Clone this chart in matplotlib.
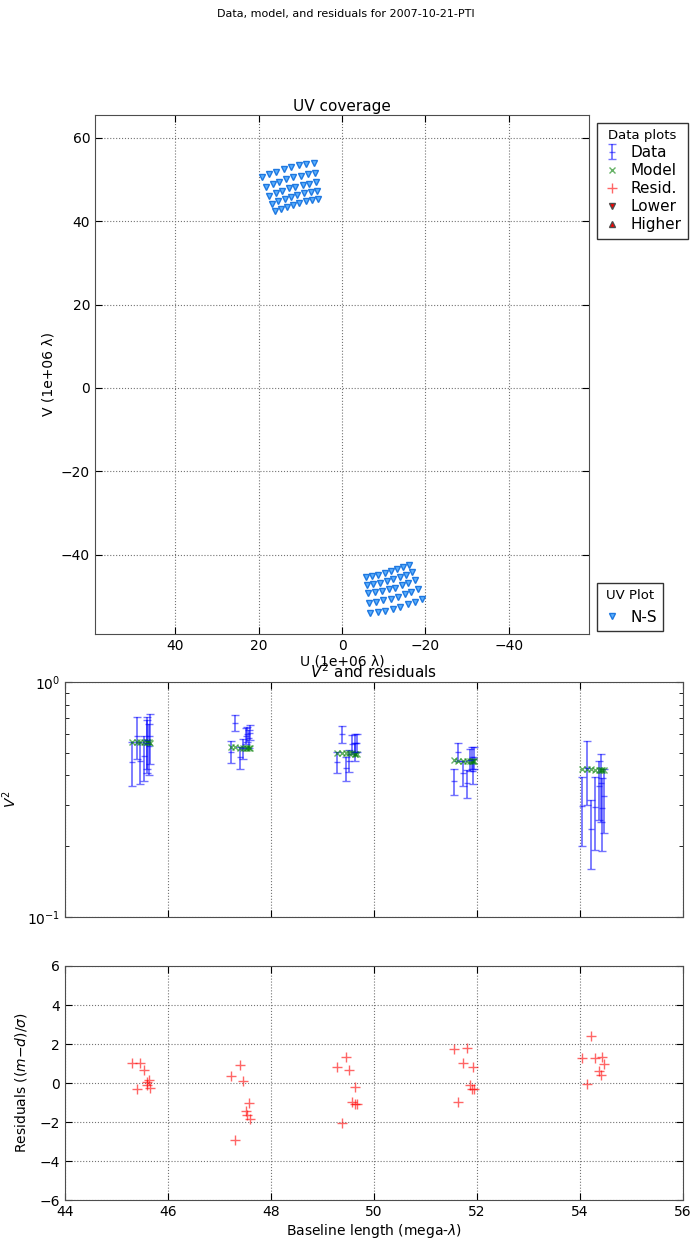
import matplotlib
matplotlib.use('Agg')
import matplotlib.pyplot as plt
from matplotlib.lines import Line2D
from matplotlib.ticker import NullFormatter

# baselines (mega-lambda), 5 channels x 8 times
baseline = [45.30, 45.39, 45.46, 45.53, 45.59, 45.60, 45.63, 45.66,
            47.22, 47.31, 47.40, 47.45, 47.51, 47.54, 47.57, 47.60,
            49.28, 49.37, 49.45, 49.52, 49.58, 49.63, 49.64, 49.67,
            51.55, 51.64, 51.72, 51.80, 51.86, 51.91, 51.92, 51.95,
            54.03, 54.13, 54.22, 54.30, 54.37, 54.40, 54.43, 54.47]
v2_data = [0.457, 0.589, 0.460, 0.483, 0.568, 0.550, 0.532, 0.589,
           0.505, 0.670, 0.477, 0.521, 0.590, 0.600, 0.575, 0.609,
           0.457, 0.600, 0.430, 0.462, 0.544, 0.505, 0.551, 0.551,
           0.379, 0.505, 0.410, 0.372, 0.466, 0.477, 0.419, 0.477,
           0.297, 0.430, 0.237, 0.293, 0.359, 0.373, 0.291, 0.328]
v2_err = [0.096, 0.120, 0.093, 0.104, 0.140, 0.140, 0.130, 0.140,
          0.055, 0.050, 0.053, 0.050, 0.045, 0.045, 0.050, 0.045,
          0.046, 0.050, 0.050, 0.050, 0.050, 0.045, 0.050, 0.050,
          0.048, 0.046, 0.050, 0.050, 0.050, 0.050, 0.050, 0.050,
          0.097, 0.130, 0.077, 0.100, 0.100, 0.120, 0.100, 0.100]
v2_model = [0.556, 0.555, 0.555, 0.554, 0.554, 0.553, 0.553, 0.552,
            0.527, 0.526, 0.525, 0.525, 0.524, 0.524, 0.524, 0.523,
            0.498, 0.497, 0.497, 0.496, 0.496, 0.495, 0.495, 0.495,
            0.463, 0.462, 0.461, 0.461, 0.461, 0.460, 0.460, 0.460,
            0.425, 0.424, 0.424, 0.423, 0.423, 0.422, 0.422, 0.422]
resid = [1.01, -0.29, 1.01, 0.68, -0.10, 0.03, 0.17, -0.25,
         0.37, -2.92, 0.90, 0.08, -1.44, -1.66, -1.01, -1.86,
         0.84, -2.06, 1.32, 0.68, -0.96, -0.19, -1.10, -1.10,
         1.72, -0.95, 1.01, 1.79, -0.10, -0.32, 0.84, -0.32,
         1.30, -0.05, 2.43, 1.30, 0.64, 0.42, 1.32, 0.95]

# uv coverage (1e6 lambda), N-S baseline
u_coord = [16.09, 14.63, 13.22, 11.71, 10.26, 8.70, 7.22, 5.64,
           16.77, 15.25, 13.78, 12.20, 10.69, 9.07, 7.53, 5.88,
           17.50, 15.91, 14.38, 12.73, 11.16, 9.47, 7.85, 6.14,
           18.31, 16.64, 15.04, 13.32, 11.67, 9.90, 8.21, 6.42,
           19.19, 17.45, 15.76, 13.96, 12.23, 10.38, 8.61, 6.73]
v_coord = [42.35, 42.97, 43.50, 44.00, 44.42, 44.76, 45.06, 45.31,
           44.14, 44.78, 45.35, 45.86, 46.29, 46.67, 46.97, 47.23,
           46.07, 46.73, 47.31, 47.86, 48.31, 48.72, 49.01, 49.29,
           48.19, 48.88, 49.49, 50.06, 50.53, 50.95, 51.27, 51.55,
           50.51, 51.24, 51.88, 52.48, 52.98, 53.40, 53.74, 54.05]
u_conj = [-u for u in u_coord]
v_conj = [-v for v in v_coord]

plt.rcParams['font.family'] = 'DejaVu Sans'
plt.rcParams['font.size'] = 10
plt.rcParams['xtick.direction'] = 'in'
plt.rcParams['ytick.direction'] = 'in'
plt.rcParams['xtick.top'] = True
plt.rcParams['ytick.right'] = True
plt.rcParams['xtick.major.size'] = 5
plt.rcParams['ytick.major.size'] = 5
plt.rcParams['xtick.minor.size'] = 3
plt.rcParams['ytick.minor.size'] = 3
plt.rcParams['axes.edgecolor'] = '0.3'
plt.rcParams['mathtext.fontset'] = 'dejavusans'

fig = plt.figure(figsize=(6.92, 12.45), dpi=100)
fig.suptitle('Data, model, and residuals for 2007-10-21-PTI', fontsize=8, y=0.993)

grid_kw = dict(color='0.45', linestyle=':', linewidth=0.8)

# UV coverage
ax1 = fig.add_axes([0.1373, 0.4908, 0.7139, 0.4169])
tri_kw = dict(linestyle='none', marker='v', markersize=5, markerfacecolor='#5ab0ff',
              markeredgecolor='#1f78e0', markeredgewidth=1)
ax1.plot(u_coord, v_coord, **tri_kw)
ax1.plot(u_conj, v_conj, **tri_kw)
ax1.set_xlim(59.2, -59.2)
ax1.set_ylim(-59, 65.5)
ax1.set_xticks([40, 20, 0, -20, -40])
ax1.set_yticks([-40, -20, 0, 20, 40, 60])
ax1.grid(True, **grid_kw)
ax1.set_title('UV coverage', fontsize=11, pad=3)
ax1.set_xlabel('U (1e+06 λ)', labelpad=1)
ax1.set_ylabel('V (1e+06 λ)', labelpad=4)

# V^2
ax2 = fig.add_axes([0.0939, 0.2635, 0.8931, 0.1888])
eb = ax2.errorbar(baseline, v2_data, yerr=v2_err, fmt='_', color='b', ecolor='b',
                  alpha=0.55, capsize=3, markersize=5, elinewidth=1.3)
ax2.plot(baseline, v2_model, 'x', color='g', alpha=0.6, markersize=5)
ax2.set_yscale('log')
ax2.set_ylim(0.1, 1.0)
ax2.set_xlim(44, 56)
ax2.yaxis.set_minor_formatter(NullFormatter())
ax2.tick_params(labelbottom=False)
ax2.grid(True, which='major', **grid_kw)
ax2.set_title('$V^2$ and residuals', fontsize=11, pad=3)
ax2.set_ylabel('$V^2$')
ax2.yaxis.set_label_coords(-0.075, 0.5)

# residuals
ax3 = fig.add_axes([0.0939, 0.0361, 0.8931, 0.1880])
ax3.plot(baseline, resid, '+', color='r', alpha=0.6, markersize=7, markeredgewidth=1)
ax3.set_xlim(44, 56)
ax3.set_ylim(-6, 6)
ax3.set_xticks([44, 46, 48, 50, 52, 54, 56])
ax3.set_yticks([-6, -4, -2, 0, 2, 4, 6])
ax3.grid(True, **grid_kw)
ax3.set_xlabel('Baseline length (mega-$\\lambda$)', labelpad=2)
ax3.set_ylabel('Residuals ($(m{-}d)/\\sigma$)')
ax3.yaxis.set_label_coords(-0.058, 0.5)

# legends
h_model = Line2D([], [], linestyle='none', marker='x', color='g', alpha=0.6, markersize=5)
h_resid = Line2D([], [], linestyle='none', marker='+', color='r', alpha=0.6, markersize=7)
h_low = Line2D([], [], linestyle='none', marker='v', markerfacecolor='r',
               markeredgecolor='0.3', markersize=5)
h_high = Line2D([], [], linestyle='none', marker='^', markerfacecolor='r',
                markeredgecolor='0.3', markersize=5)
leg1 = fig.legend([eb, h_model, h_resid, h_low, h_high],
                  ['Data', 'Model', 'Resid.', 'Lower', 'Higher'],
                  loc='upper left', bbox_to_anchor=(597 / 692, 1 - 123 / 1245),
                  title='Data plots', fontsize=11, title_fontsize=9.5,
                  numpoints=1, fancybox=False, edgecolor='0.2',
                  borderaxespad=0, handlelength=1.2, handletextpad=0.6,
                  labelspacing=0.2, borderpad=0.4, framealpha=1)
h_ns = Line2D([], [], **tri_kw)
leg2 = fig.legend([h_ns], ['N-S'], loc='upper left',
                  bbox_to_anchor=(597 / 692, 1 - 583 / 1245),
                  title='UV Plot', fontsize=11, title_fontsize=9.5,
                  numpoints=1, fancybox=False, edgecolor='0.2',
                  borderaxespad=0, handlelength=1.2, handletextpad=0.6,
                  borderpad=0.4, framealpha=1)
for leg in (leg1, leg2):
    leg.get_frame().set_linewidth(1.0)

fig.savefig('out.png', dpi=100)
